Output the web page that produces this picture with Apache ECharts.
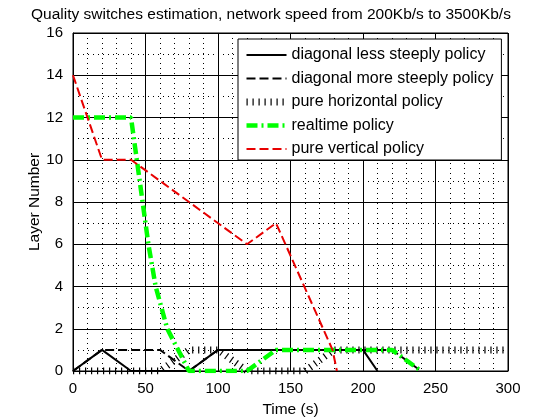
<!DOCTYPE html>
<html>
<head>
<meta charset="utf-8">
<script src="https://cdn.jsdelivr.net/npm/echarts@6/dist/echarts.min.js"></script>
<style>
  html, body { margin: 0; padding: 0; background: #ffffff; }
  #main { width: 560px; height: 420px; }
</style>
</head>
<body>
<div id="main"></div>
<script>
// time (s) and layer number for each policy
var lessSteepT = [0, 20, 40, 80, 100, 200, 210];
var lessSteepL = [0, 1, 0, 0, 1, 1, 0];

var moreSteepT = [0, 20, 60, 80, 100, 220, 240];
var moreSteepL = [0, 1, 1, 0, 1, 1, 0];

var horizT = [0, 60, 80, 100, 120, 160, 180, 300];
var horizL = [0, 0, 1, 1, 0, 0, 1, 1];

var realtimeT = [0, 40, 44, 48, 52, 57, 65, 80, 120, 140, 220, 240];
var realtimeL = [12, 12, 10, 8, 6, 4, 2, 0, 0, 1, 1, 0];

var verticalT = [0, 20, 40, 120, 140, 179, 182];
var verticalL = [14, 10, 10, 6, 7, 1, 0];

var names = [
  'diagonal less steeply policy',
  'diagonal more steeply policy',
  'pure horizontal policy',
  'realtime policy',
  'pure vertical policy'
];

function pairs(t, l) {
  var out = [];
  for (var i = 0; i < t.length; i++) out.push([t[i], l[i]]);
  return out;
}

var font = 'Liberation Sans';

var styles = [
  { color: '#000000', width: 2, type: 'solid' },
  { color: '#000000', width: 2, type: [9, 4] },
  { color: '#000000', width: 7, type: [1.2, 4.8] },
  { color: '#00ff00', width: 4.5, type: [11, 4, 2, 4] },
  { color: '#e80000', width: 2, type: [9, 4] }
];

var datasets = [
  pairs(lessSteepT, lessSteepL),
  pairs(moreSteepT, moreSteepL),
  pairs(horizT, horizL),
  pairs(realtimeT, realtimeL),
  pairs(verticalT, verticalL)
];

var series = names.map(function (n, i) {
  return {
    name: n,
    type: 'line',
    data: datasets[i],
    symbol: 'none',
    showSymbol: false,
    animation: false,
    itemStyle: { color: styles[i].color },
    lineStyle: styles[i]
  };
});

var chart = echarts.init(document.getElementById('main'));

var option = {
  backgroundColor: '#ffffff',
  animation: false,
  textStyle: { fontFamily: font },
  title: {
    text: 'Quality switches estimation, network speed from 200Kb/s to 3500Kb/s',
    left: 26,
    top: 2,
    textStyle: { fontFamily: font, fontSize: 15.5, fontWeight: 'normal', color: '#000' }
  },
  grid: {
    left: 73,
    right: 52,
    top: 33,
    bottom: 49,
    outerBoundsMode: 'none',
    show: true,
    borderColor: '#000',
    borderWidth: 1,
    backgroundColor: '#fff'
  },
  legend: {
    orient: 'vertical',
    left: 238,
    top: 39,
    padding: [8, 8, 3, 5],
    itemWidth: 40,
    itemHeight: 16,
    itemGap: 7.5,
    backgroundColor: '#fff',
    borderColor: '#000',
    borderWidth: 1,
    borderRadius: 0,
    textStyle: { fontFamily: font, fontSize: 16, lineHeight: 16, color: '#000' },
    data: names.map(function (n, i) {
      return { name: n, itemStyle: { opacity: 0 }, lineStyle: styles[i] };
    })
  },
  xAxis: {
    type: 'value',
    min: 0,
    max: 300,
    interval: 50,
    name: 'Time (s)',
    nameLocation: 'middle',
    nameGap: 31,
    nameMoveOverlap: false,
    nameTextStyle: { fontFamily: font, fontSize: 15.5, color: '#000' },
    axisLine: { show: true, lineStyle: { color: '#000' } },
    axisTick: { show: true, inside: true, length: 5, lineStyle: { color: '#000' } },
    axisLabel: { fontFamily: font, fontSize: 15, color: '#000', margin: 10 },
    splitLine: { show: true, lineStyle: { color: '#000', width: 1 } },
    minorTick: { show: false, splitNumber: 5 },
    minorSplitLine: { show: true, lineStyle: { color: '#000', width: 1, type: [1, 4] } }
  },
  yAxis: {
    type: 'value',
    min: 0,
    max: 16,
    interval: 2,
    name: 'Layer Number',
    nameLocation: 'middle',
    nameGap: 30,
    nameMoveOverlap: false,
    nameTextStyle: { fontFamily: font, fontSize: 15.5, color: '#000' },
    axisLine: { show: true, lineStyle: { color: '#000' } },
    axisTick: { show: true, inside: true, length: 5, lineStyle: { color: '#000' } },
    axisLabel: { fontFamily: font, fontSize: 15, color: '#000', margin: 10 },
    splitLine: { show: true, lineStyle: { color: '#000', width: 1 } },
    minorTick: { show: false, splitNumber: 2 },
    minorSplitLine: { show: true, lineStyle: { color: '#000', width: 1, type: [1, 4] } }
  },
  series: series
};

chart.setOption(option);
</script>
</body>
</html>
